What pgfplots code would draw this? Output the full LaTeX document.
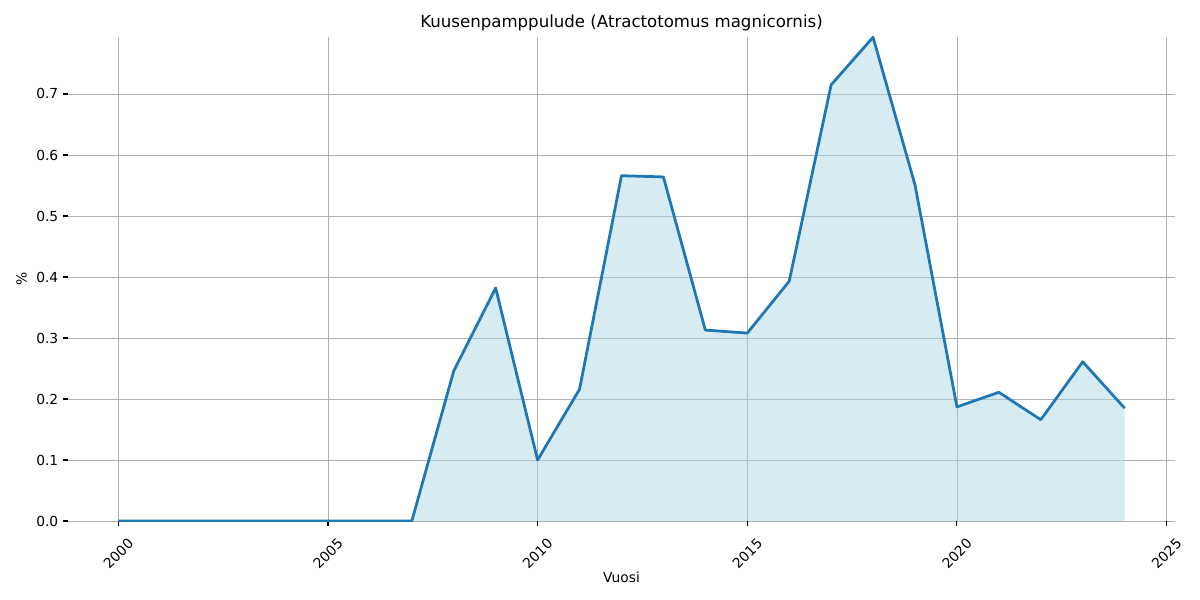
\documentclass[border=0pt]{standalone}
\usepackage{fontspec}
\setmainfont{DejaVu Sans}
\usepackage{pgfplots}
\pgfplotsset{compat=1.18}
\definecolor{mplblue}{HTML}{1F77B4}
\definecolor{fillblue}{HTML}{ADD8E6}
\definecolor{gridgray}{HTML}{B0B0B0}
\begin{document}
\begin{tikzpicture}[x=1pt,y=1pt]
\useasboundingbox (-49.14pt,-57.09pt) rectangle (818.10pt,376.53pt);
\begin{axis}[
  at={(0,0)}, anchor=south west,
  scale only axis,
  width=800.0pt, height=349.8pt,
  xmin=1998.8, xmax=2025.2,
  ymin=0, ymax=0.7934,
  xtick={2000,2005,2010,2015,2020,2025},
  ytick={0,0.1,0.2,0.3,0.4,0.5,0.6,0.7},
  xticklabels={2000,2005,2010,2015,2020,2025},
  yticklabels={0.0,0.1,0.2,0.3,0.4,0.5,0.6,0.7},
  xtick pos=bottom, ytick pos=left,
  tick align=outside,
  major tick length=3.5pt,
  every tick/.style={black, line width=0.8pt},
  axis line style={draw=none},
  grid=major,
  major grid style={gridgray, line width=0.6pt},
  xticklabel style={yshift=-20pt, rotate=45, anchor=center, font=\fontsize{10}{12}\selectfont},
  yticklabel style={font=\fontsize{10}{12}\selectfont},
  /pgf/number format/assume math mode=true,
  title={Kuusenpamppulude (Atractotomus magnicornis)},
  title style={font=\fontsize{12}{14}\selectfont, yshift=-5.5pt},
  xlabel={Vuosi}, ylabel={\%},
  label style={font=\fontsize{10}{12}\selectfont},
  xlabel style={yshift=6.5pt},
  ylabel style={yshift=0pt},
]
\addplot[draw=none, fill=fillblue, fill opacity=0.5] coordinates {
(2000,0) (2001,0) (2002,0) (2003,0) (2004,0) (2005,0) (2006,0) (2007,0)
(2008,0.246) (2009,0.382) (2010,0.100) (2011,0.216) (2012,0.566) (2013,0.564)
(2014,0.313) (2015,0.308) (2016,0.393) (2017,0.715) (2018,0.793) (2019,0.551)
(2020,0.187) (2021,0.211) (2022,0.166) (2023,0.261) (2024,0.185)
(2024,0) (2000,0)} \closedcycle;
\addplot[mplblue, line width=2pt, line join=round] coordinates {
(2000,0) (2001,0) (2002,0) (2003,0) (2004,0) (2005,0) (2006,0) (2007,0)
(2008,0.246) (2009,0.382) (2010,0.100) (2011,0.216) (2012,0.566) (2013,0.564)
(2014,0.313) (2015,0.308) (2016,0.393) (2017,0.715) (2018,0.793) (2019,0.551)
(2020,0.187) (2021,0.211) (2022,0.166) (2023,0.261) (2024,0.185)};
\end{axis}
\end{tikzpicture}
\end{document}
